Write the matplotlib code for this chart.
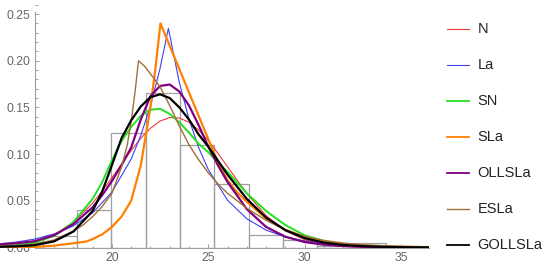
import matplotlib
matplotlib.use("Agg")
import matplotlib.pyplot as plt
from matplotlib.lines import Line2D
from matplotlib.ticker import MultipleLocator, FixedLocator

# ---------------- data ----------------
hist_edges = [16.41, 18.19, 19.97, 21.75, 23.53, 25.31, 27.09, 28.87, 30.65, 32.43, 34.21]
hist_heights = [0.012, 0.040, 0.123, 0.165, 0.110, 0.068, 0.013, 0.008, 0.002, 0.005]

x_smooth = [14.2, 15, 16, 17, 18, 19, 19.5, 20, 20.5, 21, 21.5, 22, 22.5, 23, 23.5,
            24, 24.5, 25, 25.5, 26, 27, 28, 29, 30, 31, 32, 33, 34, 35, 36.46]
y_n = [0.0010, 0.0023, 0.0059, 0.0133, 0.0267, 0.0475, 0.0604, 0.0746, 0.0893, 0.1038,
       0.1169, 0.1277, 0.1354, 0.1392, 0.1387, 0.1341, 0.1258, 0.1144, 0.1010, 0.0864,
       0.0577, 0.0341, 0.0179, 0.0083, 0.0034, 0.0012, 0.0004, 0.0001, 0.0000, 0.0000]
y_sn = [0.0015, 0.0025, 0.0050, 0.0125, 0.0270, 0.0520, 0.0700, 0.0930, 0.1140, 0.1290,
        0.1410, 0.1475, 0.1485, 0.1430, 0.1340, 0.1230, 0.1110, 0.1020, 0.0910, 0.0810,
        0.0580, 0.0390, 0.0240, 0.0130, 0.0070, 0.0035, 0.0017, 0.0008, 0.0004, 0.0001]
y_ollsla = [0.0035, 0.0045, 0.0068, 0.0130, 0.0250, 0.0430, 0.0560, 0.0710, 0.0880, 0.1070,
            0.1370, 0.1620, 0.1730, 0.1745, 0.1670, 0.1520, 0.1310, 0.1080, 0.0880, 0.0700,
            0.0410, 0.0220, 0.0115, 0.0058, 0.0030, 0.0015, 0.0008, 0.0004, 0.0002, 0.0001]
y_gollsla = [0.0008, 0.0012, 0.0025, 0.0065, 0.0170, 0.0390, 0.0600, 0.0880, 0.1170, 0.1360,
             0.1510, 0.1610, 0.1640, 0.1600, 0.1500, 0.1370, 0.1210, 0.1080, 0.0930, 0.0780,
             0.0520, 0.0320, 0.0185, 0.0100, 0.0052, 0.0027, 0.0014, 0.0007, 0.0003, 0.0001]

x_la = [14.2, 15, 16, 17, 18, 19, 20, 21, 21.5, 22, 22.5, 22.93, 23.5, 24, 24.5, 25,
        26, 27, 28, 29, 30, 31, 32, 34, 36.46]
y_la = [0.0039, 0.0057, 0.0090, 0.0145, 0.0231, 0.0370, 0.0592, 0.0947, 0.1199, 0.1516,
        0.1918, 0.2347, 0.1765, 0.1375, 0.1070, 0.0834, 0.0506, 0.0307, 0.0186, 0.0113,
        0.0069, 0.0042, 0.0025, 0.0009, 0.0003]

x_sla = [14.2, 16, 17, 18, 18.7, 19, 19.5, 20, 20.5, 21, 21.5, 21.76, 22, 22.25, 22.52,
         23, 23.5, 24, 24.5, 24.92, 25.3, 25.6, 26, 26.5, 27, 28, 29, 30, 31, 32, 33, 34, 36.46]
y_sla = [0.0001, 0.0005, 0.0020, 0.0045, 0.0065, 0.0090, 0.0140, 0.0220, 0.0330, 0.0500,
         0.0880, 0.1200, 0.1500, 0.1900, 0.2400, 0.2160, 0.1910, 0.1660, 0.1410, 0.1200,
         0.1010, 0.0870, 0.0720, 0.0590, 0.0490, 0.0310, 0.0190, 0.0110, 0.0060, 0.0035,
         0.0020, 0.0010, 0.0003]

x_esla = [14.2, 15, 16, 17, 18, 18.5, 19, 19.5, 20, 20.5, 20.8, 21.0, 21.2, 21.38, 21.7,
          22.0, 22.5, 23, 23.5, 24, 24.5, 25, 25.5, 26, 27, 28, 29, 30, 31, 32, 33, 34, 35, 36.46]
y_esla = [0.0012, 0.0019, 0.0037, 0.0080, 0.0175, 0.0240, 0.0330, 0.0440, 0.0580, 0.0860,
          0.1100, 0.1350, 0.1660, 0.2000, 0.1940, 0.1860, 0.1720, 0.1520, 0.1300, 0.1100,
          0.0940, 0.0800, 0.0680, 0.0580, 0.0420, 0.0290, 0.0190, 0.0120, 0.0075, 0.0048,
          0.0030, 0.0020, 0.0013, 0.0008]

labels = ["N", "La", "SN", "SLa", "OLLSLa", "ESLa", "GOLLSLa"]
colors = ["#EE3B3B", "#4040EE", "#22E022", "#FF8000", "#800080", "#A0703A", "#000000"]
widths = [0.8, 0.8, 1.4, 1.6, 1.6, 1.0, 1.6]
x_ticks_major = [20, 25, 30, 35]
y_ticks_major = [0.00, 0.05, 0.10, 0.15, 0.20, 0.25]

# ---------------- figure ----------------
W, H = 550, 269
fig = plt.figure(figsize=(W / 100, H / 100), dpi=100)
ax_bottom = 247.5
ax_right = 429.3
ax = fig.add_axes([0, (H - ax_bottom) / H, ax_right / W, ax_bottom / H])
ax.set_xlim(14.2, 36.46)
ax.set_ylim(0, 0.265)

widths_bins = [hist_edges[i + 1] - hist_edges[i] for i in range(len(hist_heights))]
ax.bar(hist_edges[:-1], hist_heights, width=widths_bins, align="edge",
       fill=False, edgecolor="#a0a0a0", linewidth=0.9, zorder=1)

series = [(x_smooth, y_n), (x_la, y_la), (x_smooth, y_sn), (x_sla, y_sla),
          (x_smooth, y_ollsla), (x_esla, y_esla), (x_smooth, y_gollsla)]
for (xs, ys), c, lw in zip(series, colors, widths):
    ax.plot(xs, ys, color=c, lw=lw, zorder=3, solid_joinstyle="round")

# axes styling (Mathematica-like)
for s in ["top", "right"]:
    ax.spines[s].set_visible(False)
ax.spines["left"].set_position(("data", 16))
ax.spines["left"].set_bounds(0, 0.2525)
ax.spines["bottom"].set_bounds(16, 36.46)
for s in ["left", "bottom"]:
    ax.spines[s].set_color("#a0a0a0")
    ax.spines[s].set_linewidth(0.8)
ax.set_axisbelow(True)

ax.xaxis.set_major_locator(FixedLocator(x_ticks_major))
ax.xaxis.set_minor_locator(FixedLocator([v for v in range(17, 37) if v not in x_ticks_major]))
ax.yaxis.set_major_locator(FixedLocator(y_ticks_major))
ax.yaxis.set_minor_locator(MultipleLocator(0.01))
ax.set_yticklabels([f"{v:.2f}" for v in y_ticks_major])
ax.set_xticklabels([str(v) for v in x_ticks_major])

ax.tick_params(which="both", direction="in", color="#a0a0a0", width=0.7)
ax.tick_params(which="major", length=3.2)
ax.tick_params(which="minor", length=1.8)
ax.tick_params(axis="x", which="major", pad=3.2, labelsize=8.7, labelcolor="#666666")
ax.tick_params(axis="y", which="major", pad=3.0, labelsize=8.8, labelcolor="#666666")
for lab in ax.get_xticklabels() + ax.get_yticklabels():
    lab.set_fontfamily("Liberation Sans")

# legend (manual, Mathematica style)
leg_y = [29.3, 65.0, 100.7, 136.7, 173.3, 209.3, 245.0]
for lab, c, lw, yp in zip(labels, colors, widths, leg_y):
    yf = 1 - yp / H
    fig.add_artist(Line2D([446.7 / W, 469.3 / W], [yf, yf], color=c, lw=min(lw, 1.3)))
    fig.text(477.7 / W, yf, lab, ha="left", va="center", fontsize=10.5,
             color="#222222", family="Liberation Sans")

fig.savefig("out.png", dpi=100)
